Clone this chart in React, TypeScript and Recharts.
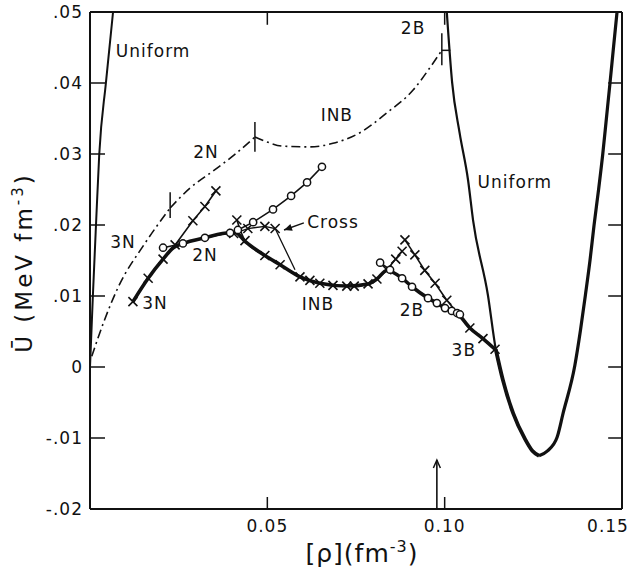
import React from "react";
import { ComposedChart, Line, XAxis, YAxis, ReferenceLine, ReferenceDot } from "recharts";

const INK = "#111";
const FONT = "'DejaVu Sans', sans-serif";

// x = [rho] (fm^-3), u = energy density U (MeV fm^-3)
const uniformLeft = [
  { x: 0.0, u: 0.0 },
  { x: 0.0008, u: 0.0099 },
  { x: 0.0017, u: 0.0201 },
  { x: 0.0026, u: 0.0299 },
  { x: 0.0045, u: 0.0401 },
  { x: 0.0065, u: 0.05 },
];

// high-density uniform matter, falling branch down to the minimum
const uniformFall = [
  { x: 0.1006, u: 0.05 },
  { x: 0.1021, u: 0.0401 },
  { x: 0.1042, u: 0.033 },
  { x: 0.1066, u: 0.0263 },
  { x: 0.108, u: 0.0207 },
  { x: 0.1122, u: 0.0101 },
  { x: 0.1144, u: 0.0025 },
  { x: 0.1164, u: -0.0018 },
  { x: 0.1193, u: -0.0065 },
  { x: 0.1226, u: -0.0101 },
  { x: 0.1247, u: -0.0118 },
  { x: 0.1266, u: -0.0125 },
];
// rising branch from the minimum
const uniformRise = [
  { x: 0.1266, u: -0.0125 },
  { x: 0.129, u: -0.0118 },
  { x: 0.1317, u: -0.0099 },
  { x: 0.1334, u: -0.0065 },
  { x: 0.1367, u: 0.0002 },
  { x: 0.1383, u: 0.0052 },
  { x: 0.1397, u: 0.0102 },
  { x: 0.141, u: 0.0151 },
  { x: 0.1421, u: 0.0199 },
  { x: 0.1434, u: 0.025 },
  { x: 0.1446, u: 0.0301 },
  { x: 0.1456, u: 0.035 },
  { x: 0.1466, u: 0.0399 },
  { x: 0.1476, u: 0.045 },
  { x: 0.1486, u: 0.05 },
];
const uniformFallLow = uniformFall.filter((p) => p.x >= 0.1144);

// dash-dot curve, three pieces meeting at the marked transitions
const dashed3N = [
  { x: 0.0005, u: 0.0015 },
  { x: 0.004, u: 0.0065 },
  { x: 0.008, u: 0.0113 },
  { x: 0.0152, u: 0.0172 },
  { x: 0.0226, u: 0.0224 },
];
const dashed2N = [
  { x: 0.0226, u: 0.0224 },
  { x: 0.0282, u: 0.0252 },
  { x: 0.0347, u: 0.0276 },
  { x: 0.0405, u: 0.0298 },
  { x: 0.0465, u: 0.0324 },
];
const dashed1NB = [
  { x: 0.0465, u: 0.0324 },
  { x: 0.0499, u: 0.0317 },
  { x: 0.0544, u: 0.0311 },
  { x: 0.062, u: 0.031 },
  { x: 0.0685, u: 0.0315 },
  { x: 0.0761, u: 0.033 },
  { x: 0.0837, u: 0.0358 },
  { x: 0.0911, u: 0.039 },
  { x: 0.0959, u: 0.0422 },
  { x: 0.0992, u: 0.0446 },
];
const transitionMarks = [
  { x: 0.0226, lo: 0.021, hi: 0.0246 },
  { x: 0.0465, lo: 0.0303, hi: 0.0345 },
  { x: 0.0992, lo: 0.0425, hi: 0.047 },
];

// phase curves
const curve3N = [
  { x: 0.0121, u: 0.0092 },
  { x: 0.0164, u: 0.0125 },
  { x: 0.0206, u: 0.0152 },
  { x: 0.024, u: 0.0172 },
  { x: 0.029, u: 0.0206 },
  { x: 0.0324, u: 0.0226 },
  { x: 0.0355, u: 0.0248 },
];
const curve2N = [
  { x: 0.0206, u: 0.0168 },
  { x: 0.0262, u: 0.0174 },
  { x: 0.0324, u: 0.0182 },
  { x: 0.0395, u: 0.0189 },
  { x: 0.0417, u: 0.0193 },
  { x: 0.046, u: 0.0204 },
  { x: 0.0516, u: 0.0222 },
  { x: 0.0567, u: 0.0241 },
  { x: 0.0612, u: 0.026 },
  { x: 0.0654, u: 0.0282 },
];
const curveCross = [
  { x: 0.0405, u: 0.0188 },
  { x: 0.0445, u: 0.0195 },
  { x: 0.0493, u: 0.0198 },
  { x: 0.0522, u: 0.0195 },
  { x: 0.0578, u: 0.0137 },
];
const curve1NB = [
  { x: 0.0414, u: 0.0207 },
  { x: 0.0437, u: 0.0178 },
  { x: 0.0493, u: 0.0157 },
  { x: 0.0536, u: 0.0144 },
  { x: 0.0592, u: 0.0127 },
  { x: 0.062, u: 0.0122 },
  { x: 0.0648, u: 0.0118 },
  { x: 0.0685, u: 0.0115 },
  { x: 0.0724, u: 0.0114 },
  { x: 0.0745, u: 0.0114 },
  { x: 0.0784, u: 0.0117 },
  { x: 0.0809, u: 0.0124 },
  { x: 0.0837, u: 0.0137 },
  { x: 0.0862, u: 0.0152 },
  { x: 0.088, u: 0.0163 },
];
const curve2B = [
  { x: 0.0818, u: 0.0147 },
  { x: 0.0846, u: 0.0137 },
  { x: 0.088, u: 0.0125 },
  { x: 0.0908, u: 0.0113 },
  { x: 0.0953, u: 0.0097 },
  { x: 0.0978, u: 0.009 },
  { x: 0.1001, u: 0.0083 },
  { x: 0.102, u: 0.0079 },
  { x: 0.1035, u: 0.0076 },
  { x: 0.1043, u: 0.0074 },
];
const curve3B = [
  { x: 0.0888, u: 0.0179 },
  { x: 0.0916, u: 0.0158 },
  { x: 0.0944, u: 0.0136 },
  { x: 0.0973, u: 0.0118 },
  { x: 0.1006, u: 0.0094 },
  { x: 0.1071, u: 0.0055 },
  { x: 0.1108, u: 0.004 },
  { x: 0.1142, u: 0.0025 },
];
// lowest-energy path (drawn heavy)
const groundState = [
  { x: 0.0121, u: 0.0092 },
  { x: 0.0164, u: 0.0125 },
  { x: 0.0206, u: 0.0152 },
  { x: 0.0235, u: 0.0168 },
  { x: 0.0262, u: 0.0174 },
  { x: 0.0324, u: 0.0182 },
  { x: 0.0395, u: 0.0189 },
  { x: 0.041, u: 0.0189 },
  { x: 0.0437, u: 0.0177 },
  { x: 0.0493, u: 0.0157 },
  { x: 0.0536, u: 0.0144 },
  { x: 0.0592, u: 0.0127 },
  { x: 0.0648, u: 0.0118 },
  { x: 0.0724, u: 0.0114 },
  { x: 0.0784, u: 0.0117 },
  { x: 0.0809, u: 0.0124 },
  { x: 0.0837, u: 0.0136 },
  { x: 0.088, u: 0.0125 },
  { x: 0.0908, u: 0.0113 },
  { x: 0.0953, u: 0.0097 },
  { x: 0.0978, u: 0.009 },
  { x: 0.1001, u: 0.0083 },
  { x: 0.1035, u: 0.0076 },
  { x: 0.1071, u: 0.0055 },
  { x: 0.1108, u: 0.004 },
  { x: 0.1142, u: 0.0025 },
];

const curveLabels = [
  { x: 0.0178, u: 0.0445, text: "Uniform" },
  { x: 0.1198, u: 0.0261, text: "Uniform" },
  { x: 0.0327, u: 0.0303, text: "2N" },
  { x: 0.0093, u: 0.0176, text: "3N" },
  { x: 0.0324, u: 0.0158, text: "2N" },
  { x: 0.0183, u: 0.009, text: "3N" },
  { x: 0.0696, u: 0.0355, text: "INB" },
  { x: 0.0911, u: 0.0477, text: "2B" },
  { x: 0.0685, u: 0.0204, text: "Cross" },
  { x: 0.0643, u: 0.0089, text: "INB" },
  { x: 0.0908, u: 0.008, text: "2B" },
  { x: 0.1054, u: 0.0024, text: "3B" },
];

const crossArrow = { from: { x: 0.0603, y: 0.0203 }, to: { x: 0.0547, y: 0.0193 } };
const densityArrow = { from: { x: 0.0978, y: -0.02 }, to: { x: 0.0978, y: -0.0131 } };

const X_MIN = 0;
const X_MAX = 0.15;
const Y_MIN = -0.02;
const Y_MAX = 0.05;
const xTicks = [0.05, 0.1, 0.15];
const topTicks = [0.05, 0.1];
const yTicks = [-0.02, -0.01, 0, 0.01, 0.02, 0.03, 0.04, 0.05];
const sideTicks = [-0.01, 0, 0.01, 0.02, 0.03, 0.04];
// inward tick lengths on the top and right frame, in axis units
const TOP_TICK = 0.0018;
const SIDE_TICK = 0.0039;

const fmtY = (v: number) =>
  v === 0 ? "0" : (v < 0 ? "-" : "") + Math.abs(v).toFixed(2).replace(/^0/, "");

const textStyle = { fontFamily: FONT, fontSize: 17, fill: INK, letterSpacing: 1 };

const BottomTick = (p: any) => {
  const last = p.payload.value >= X_MAX;
  return (
    <g>
      {!last && <line x1={p.x} y1={p.y} x2={p.x} y2={p.y - 12} stroke={INK} strokeWidth={1.5} />}
      <text x={last ? p.x - 12 : p.x} y={p.y + 23} textAnchor="middle" {...textStyle}>
        {p.payload.value.toFixed(2)}
      </text>
    </g>
  );
};

const LeftTick = (p: any) => {
  const v = p.payload.value;
  const inner = v > Y_MIN && v < Y_MAX;
  return (
    <g>
      {inner && <line x1={p.x} y1={p.y} x2={p.x + 15} y2={p.y} stroke={INK} strokeWidth={1.5} />}
      <text x={p.x - 7} y={p.y + 6} textAnchor="end" {...textStyle}>
        {fmtY(v)}
      </text>
    </g>
  );
};

const XTitle = (p: any) => {
  const vb = p.viewBox;
  return (
    <text
      x={vb.x + vb.width / 2 + 6}
      y={vb.y + 53}
      textAnchor="middle"
      fontFamily={FONT}
      fontSize={25}
      letterSpacing={1}
      fill={INK}
    >
      [ρ](fm
      <tspan dy={-10} fontSize={16}>
        -3
      </tspan>
      <tspan dy={10}>)</tspan>
    </text>
  );
};

const YTitle = (p: any) => {
  const vb = p.viewBox;
  const cx = vb.x + 32;
  const cy = vb.y + vb.height / 2 + 2;
  return (
    <text
      transform={`rotate(-90 ${cx} ${cy})`}
      x={cx}
      y={cy}
      textAnchor="middle"
      fontFamily={FONT}
      fontSize={23}
      letterSpacing={3}
      fill={INK}
    >
      Ū (MeV fm
      <tspan dy={-9} fontSize={15}>
        -3
      </tspan>
      <tspan dy={9}>)</tspan>
    </text>
  );
};

const crossDot = (p: any) => {
  const { cx, cy, index } = p;
  const s = 4.5;
  return (
    <path
      key={`x-${index}`}
      d={`M${cx - s},${cy - s}L${cx + s},${cy + s}M${cx - s},${cy + s}L${cx + s},${cy - s}`}
      stroke={INK}
      strokeWidth={1.6}
      fill="none"
    />
  );
};

const crossDotOpenEnd = (p: any) =>
  p.index === curveCross.length - 1 ? <g key={`x-${p.index}`} /> : crossDot(p);

const ringDot = (p: any) => (
  <circle key={`o-${p.index}`} cx={p.cx} cy={p.cy} r={3.6} fill="#fff" stroke={INK} strokeWidth={1.5} />
);

const tagShape = (text: string) => (p: any) => (
  <text x={p.cx} y={p.cy} textAnchor="middle" dominantBaseline="central" {...textStyle}>
    {text}
  </text>
);

const arrowHead = (dx: number, dy: number, filled: boolean) => (p: any) => {
  const len = Math.hypot(dx, dy);
  const ux = dx / len;
  const uy = dy / len;
  const bx = p.cx - ux * 8;
  const by = p.cy - uy * 8;
  const nx = -uy * 3.5;
  const ny = ux * 3.5;
  return filled ? (
    <path d={`M${p.cx},${p.cy}L${bx + nx},${by + ny}L${bx - nx},${by - ny}Z`} fill={INK} />
  ) : (
    <path
      d={`M${bx + nx},${by + ny}L${p.cx},${p.cy}L${bx - nx},${by - ny}`}
      stroke={INK}
      strokeWidth={1.5}
      fill="none"
    />
  );
};

const thin = { stroke: INK, strokeWidth: 1.6, isAnimationActive: false, activeDot: false } as const;
const frame = { stroke: INK, ifOverflow: "visible" } as const;

export default function App() {
  return (
    <div style={{ position: "absolute", left: 0, top: 0, background: "#fff" }}>
      <ComposedChart width={634} height={575} margin={{ top: 12, right: 12, bottom: 0, left: 0 }}>
        <XAxis
          dataKey="x"
          type="number"
          domain={[X_MIN, X_MAX]}
          ticks={xTicks}
          allowDataOverflow
          height={66}
          tickSize={0}
          tickMargin={0}
          tickLine={false}
          tick={BottomTick}
          axisLine={{ stroke: INK, strokeWidth: 2 }}
          label={XTitle}
        />
        <YAxis
          type="number"
          domain={[Y_MIN, Y_MAX]}
          ticks={yTicks}
          allowDataOverflow
          width={90}
          tickSize={0}
          tickMargin={0}
          tickLine={false}
          tick={LeftTick}
          axisLine={{ stroke: INK, strokeWidth: 2 }}
          label={YTitle}
        />

        {/* top and right frame with inward ticks */}
        <ReferenceLine segment={[{ x: X_MIN, y: Y_MAX }, { x: X_MAX, y: Y_MAX }]} {...frame} strokeWidth={2} />
        <ReferenceLine segment={[{ x: X_MAX, y: Y_MIN }, { x: X_MAX, y: Y_MAX }]} {...frame} strokeWidth={2} />
        {topTicks.map((t) => (
          <ReferenceLine
            key={`tt-${t}`}
            segment={[{ x: t, y: Y_MAX }, { x: t, y: Y_MAX - TOP_TICK }]}
            {...frame}
            strokeWidth={1.5}
          />
        ))}
        {sideTicks.map((t) => (
          <ReferenceLine
            key={`rt-${t}`}
            segment={[{ x: X_MAX, y: t }, { x: X_MAX - SIDE_TICK, y: t }]}
            {...frame}
            strokeWidth={1.5}
          />
        ))}

        <Line data={uniformLeft} dataKey="u" type="monotone" dot={false} {...thin} strokeWidth={2} />
        <Line data={uniformFall} dataKey="u" type="monotone" dot={false} {...thin} strokeWidth={2.2} />
        <Line data={uniformFallLow} dataKey="u" type="monotone" dot={false} {...thin} strokeWidth={3.8} />
        <Line data={uniformRise} dataKey="u" type="monotone" dot={false} {...thin} strokeWidth={3.2} />

        <Line data={dashed3N} dataKey="u" type="monotone" dot={false} {...thin} strokeDasharray="9 4 2 4" />
        <Line data={dashed2N} dataKey="u" type="monotone" dot={false} {...thin} strokeDasharray="9 4 2 4" />
        <Line data={dashed1NB} dataKey="u" type="monotone" dot={false} {...thin} strokeDasharray="9 4 2 4" />

        <Line data={groundState} dataKey="u" type="monotone" dot={false} {...thin} strokeWidth={3.6} />

        <Line data={curve3N} dataKey="u" type="linear" dot={crossDot} {...thin} />
        <Line data={curveCross} dataKey="u" type="linear" dot={crossDotOpenEnd} {...thin} strokeWidth={1.3} />
        <Line data={curve1NB} dataKey="u" type="monotone" dot={crossDot} {...thin} />
        <Line data={curve3B} dataKey="u" type="linear" dot={crossDot} {...thin} />
        <Line data={curve2N} dataKey="u" type="linear" dot={ringDot} {...thin} />
        <Line data={curve2B} dataKey="u" type="linear" dot={ringDot} {...thin} />

        {transitionMarks.map((m) => (
          <ReferenceLine
            key={m.x}
            segment={[
              { x: m.x, y: m.lo },
              { x: m.x, y: m.hi },
            ]}
            stroke={INK}
            strokeWidth={1.5}
          />
        ))}
        <ReferenceLine
          segment={[
            { x: 0.0992, y: 0.0446 },
            { x: 0.1016, y: 0.0446 },
          ]}
          stroke={INK}
          strokeWidth={1.5}
        />

        <ReferenceLine segment={[crossArrow.from, crossArrow.to]} stroke={INK} strokeWidth={1.4} />
        <ReferenceDot x={crossArrow.to.x} y={crossArrow.to.y} r={0} shape={arrowHead(-20, 7, true)} />
        <ReferenceLine segment={[densityArrow.from, densityArrow.to]} stroke={INK} strokeWidth={1.6} />
        <ReferenceDot x={densityArrow.to.x} y={densityArrow.to.y} r={0} shape={arrowHead(0, -1, false)} />

        {curveLabels.map((l, i) => (
          <ReferenceDot key={`lab-${i}`} x={l.x} y={l.u} r={0} ifOverflow="visible" shape={tagShape(l.text)} />
        ))}
      </ComposedChart>
    </div>
  );
}
